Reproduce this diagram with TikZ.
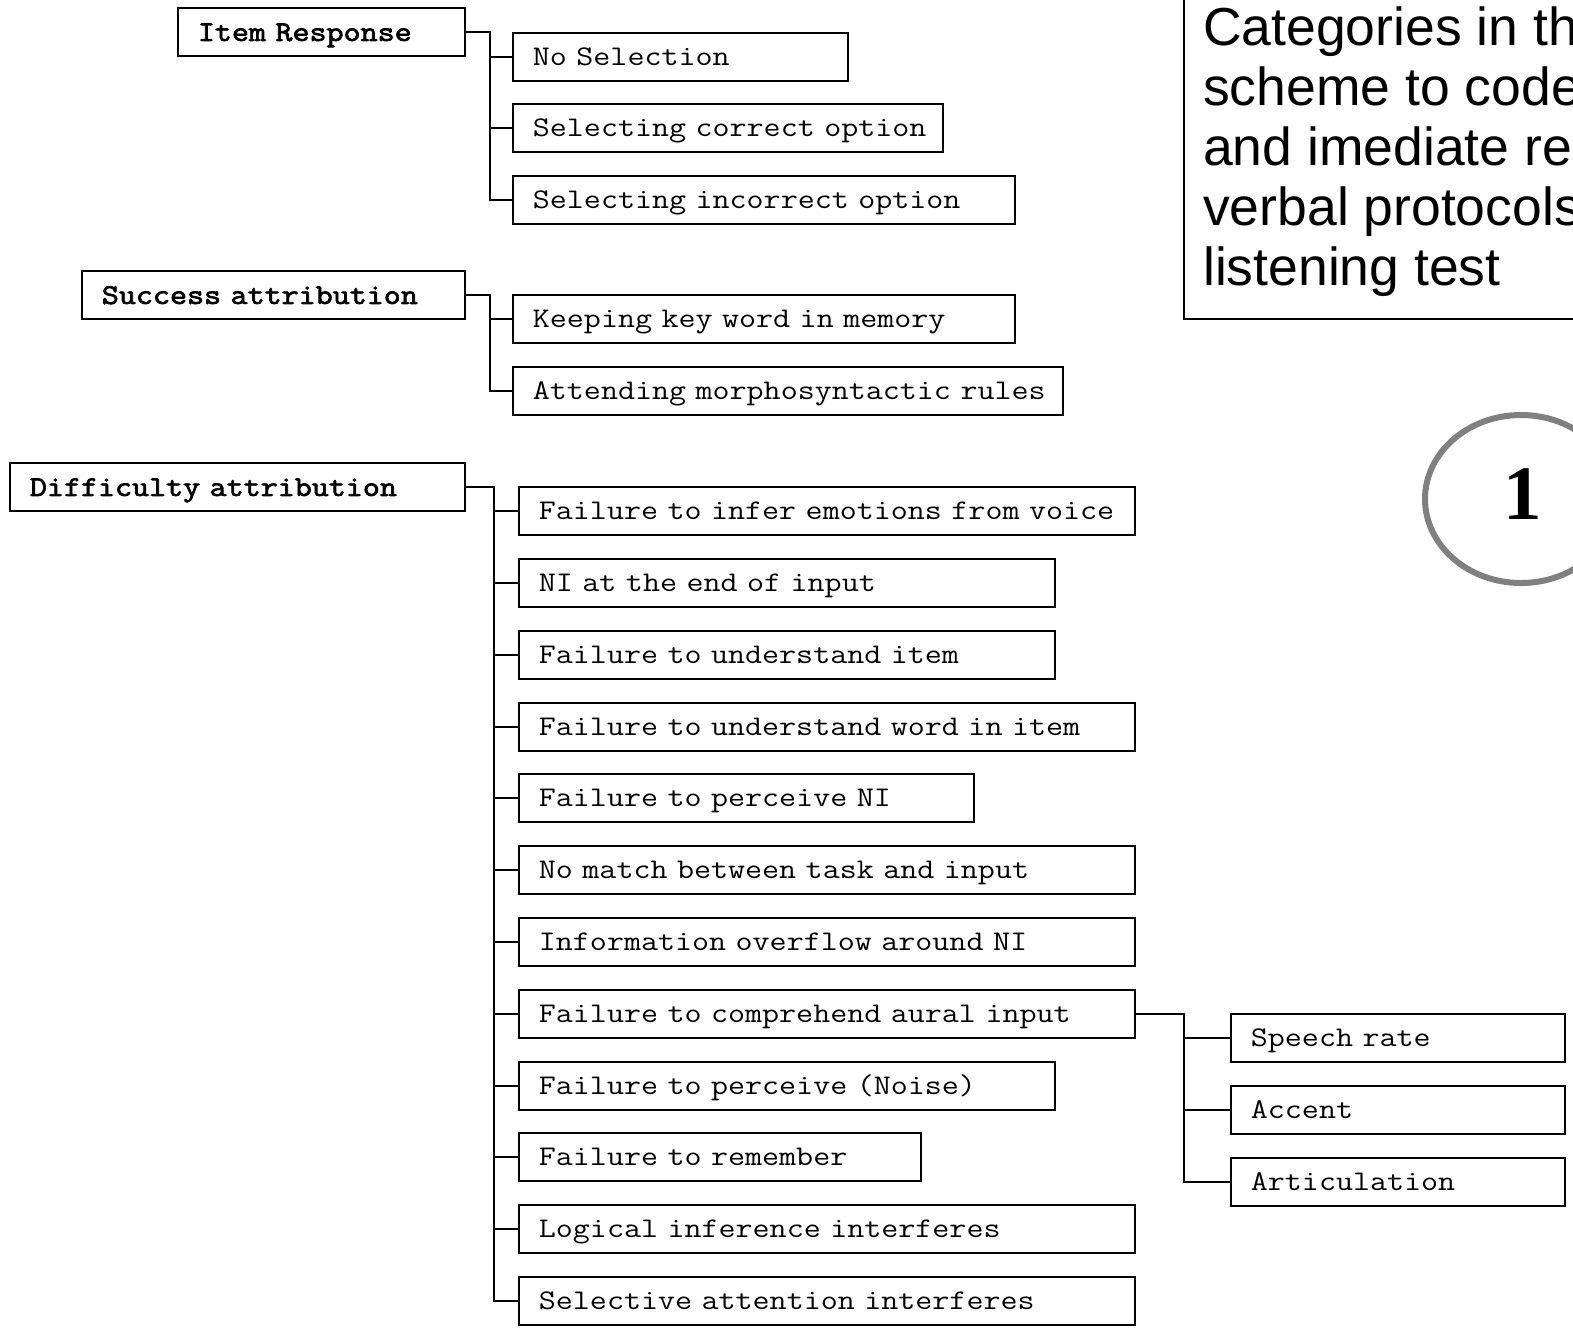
\documentclass[tikz,border=0pt]{standalone}
\usepackage{fontspec}
\setmainfont{Liberation Serif}
\newfontfamily\arialf{Liberation Sans}
\newfontfamily\courf{lmmono12-regular}[Extension=.otf, FakeStretch=1.16]
\newfontfamily\courbf{lmmono12-regular}[Extension=.otf, FakeStretch=1.16, FakeBold=2.6]
\usetikzlibrary{shapes.geometric}
\definecolor{ringgray}{HTML}{808080}
\begin{document}
\begin{tikzpicture}[x=1pt,y=-1pt,
  box/.style={draw, line width=1.8pt, anchor=north west, minimum height=48pt,
    inner xsep=20pt, inner ysep=0pt, align=left, text height=22pt, text depth=4pt,
    font=\courf\fontsize{28.5}{32}\selectfont},
  hd/.style={box, font=\courbf\fontsize{28.5}{32}\selectfont},
  conn/.style={line width=1.8pt}]
\useasboundingbox (0,0) rectangle (1573,1334);
\clip (0,0) rectangle (1573,1334);
\fill[white] (0,0) rectangle (1573,1334);

% Item Response
\node[hd, text width=247pt] (ir) at (177,7) {\mbox{Item Response}};
\node[box, text width=295pt] (ir1) at (512,32) {\mbox{No Selection}};
\node[box, text width=390pt] (ir2) at (512,103) {\mbox{Selecting correct option}};
\node[box, text width=462pt] (ir3) at (512,175) {\mbox{Selecting incorrect option}};
\foreach \c in {ir1,ir2,ir3} \draw[conn] (ir.east) -- ++(24,0) |- (\c.west);

% Success attribution
\node[hd, text width=343pt] (sa) at (81,270) {\mbox{Success attribution}};
\node[box, text width=462pt] (sa1) at (512,294) {\mbox{Keeping key word in memory}};
\node[box, text width=510pt] (sa2) at (512,366) {\mbox{Attending morphosyntactic rules}};
\foreach \c in {sa1,sa2} \draw[conn] (sa.east) -- ++(24,0) |- (\c.west);

% Difficulty attribution
\node[hd, text width=415pt] (da) at (9,462) {\mbox{Difficulty attribution}};
\node[box, text width=576pt] (d1) at (518,486) {\mbox{Failure to infer emotions from voice}};
\node[box, text width=496pt] (d2) at (518,558) {\mbox{NI at the end of input}};
\node[box, text width=496pt] (d3) at (518,630) {\mbox{Failure to understand item}};
\node[box, text width=576pt] (d4) at (518,702) {\mbox{Failure to understand word in item}};
\node[box, text width=415pt] (d5) at (518,773) {\mbox{Failure to perceive NI}};
\node[box, text width=576pt] (d6) at (518,845) {\mbox{No match between task and input}};
\node[box, text width=576pt] (d7) at (518,917) {\mbox{Information overflow around NI}};
\node[box, text width=576pt] (d8) at (518,989) {\mbox{Failure to comprehend aural input}};
\node[box, text width=496pt] (d9) at (518,1061) {\mbox{Failure to perceive (Noise)}};
\node[box, text width=362pt] (d10) at (518,1132) {\mbox{Failure to remember}};
\node[box, text width=576pt] (d11) at (518,1204) {\mbox{Logical inference interferes}};
\node[box, text width=576pt] (d12) at (518,1276) {\mbox{Selective attention interferes}};
\foreach \c in {d1,d2,d3,d4,d5,d6,d7,d8,d9,d10,d11,d12} \draw[conn] (da.east) -- ++(28,0) |- (\c.west);

% Sub-categories of aural input
\node[box, text width=294pt] (s1) at (1230,1013) {\mbox{Speech rate}};
\node[box, text width=294pt] (s2) at (1230,1085) {\mbox{Accent}};
\node[box, text width=294pt] (s3) at (1230,1157) {\mbox{Articulation}};
\foreach \c in {s1,s2,s3} \draw[conn] (d8.east) -- ++(48,0) |- (\c.west);

% Title box (cut at the right edge)
\coordinate (tbtop) at (1184,-20);
\coordinate (tbright) at (1620,319);
\draw[line width=1.8pt] (tbtop) |- (tbright);
\node[anchor=base west, inner sep=0pt, align=left,
  font=\arialf\fontsize{53.5}{60}\selectfont] (title) at (1203,285)
  {Categories in the\\scheme to code\\and imediate re\\verbal protocols\\listening test};

% Number ring
\node[draw=ringgray, line width=6pt, ellipse, minimum width=192pt, minimum height=168pt,
  inner sep=0pt] (ring) at (1521,499) {};
\node[anchor=base, inner sep=0pt, font=\bfseries\fontsize{77}{80}\selectfont] (one) at (1523,519) {1};
\end{tikzpicture}
\end{document}
